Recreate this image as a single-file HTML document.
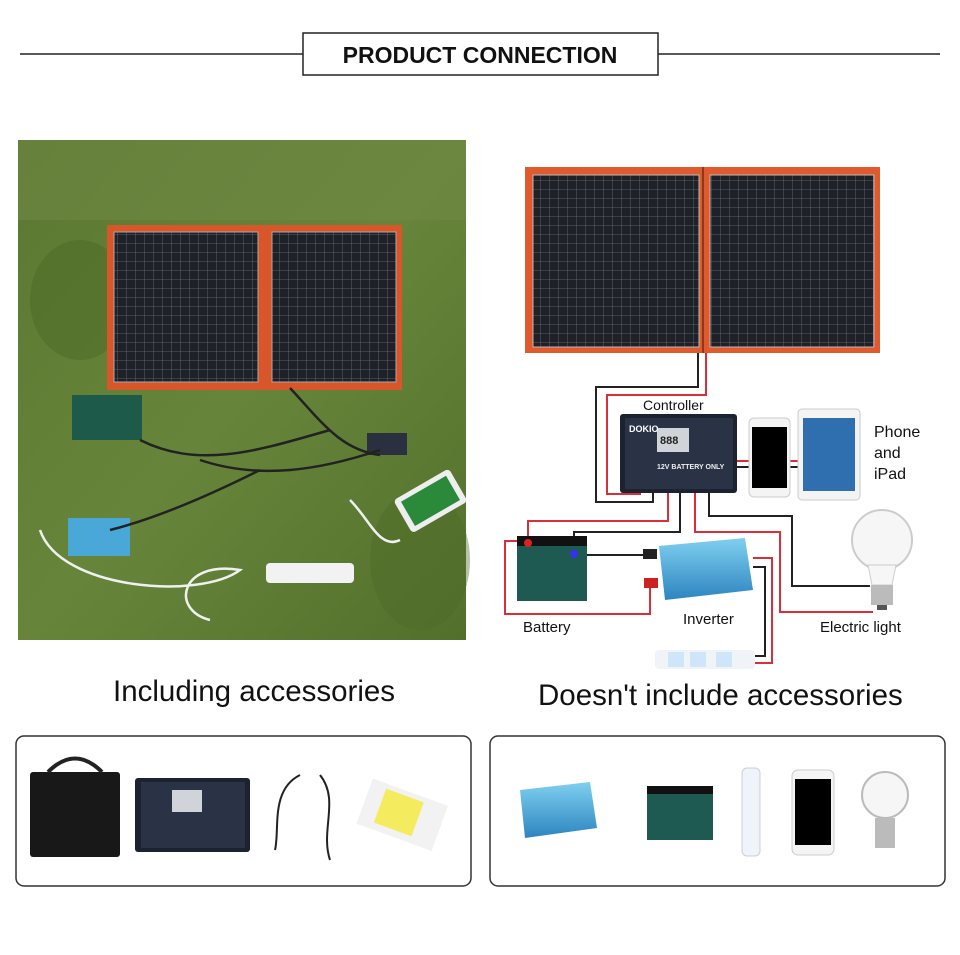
<!DOCTYPE html>
<html><head><meta charset="utf-8"><style>
html,body{margin:0;padding:0;background:#fff;}
body{width:960px;height:955px;position:relative;overflow:hidden;font-family:"Liberation Sans",Arial,sans-serif;}
.t{position:absolute;color:#111;white-space:nowrap;}
</style></head><body>
<svg width="960" height="955" viewBox="0 0 960 955" xmlns="http://www.w3.org/2000/svg" style="position:absolute;left:0;top:0">
<defs>
<pattern id="cells" width="9" height="9" patternUnits="userSpaceOnUse">
<rect width="9" height="9" fill="#1e2228"/><path d="M0 0H9M0 0V9" stroke="#6a6f78" stroke-width="0.8"/>
</pattern>
<linearGradient id="grass" x1="0" y1="0" x2="1" y2="1">
<stop offset="0" stop-color="#5a7830"/><stop offset="0.5" stop-color="#67853a"/><stop offset="1" stop-color="#52702b"/>
</linearGradient>
<linearGradient id="inv" x1="0" y1="0" x2="0" y2="1"><stop offset="0" stop-color="#7fd0ef"/><stop offset="1" stop-color="#2d85c0"/></linearGradient>
</defs>
<line x1="20" y1="54" x2="303" y2="54" stroke="#222" stroke-width="1.5"/>
<line x1="658" y1="54" x2="940" y2="54" stroke="#222" stroke-width="1.5"/>
<rect x="303" y="33" width="355" height="42" fill="#fff" stroke="#222" stroke-width="1.5"/>
<text x="480" y="63" text-anchor="middle" font-size="23" font-weight="bold" fill="#111">PRODUCT CONNECTION</text>
<rect x="18" y="140" width="448" height="500" fill="url(#grass)"/>
<rect x="18" y="140" width="448" height="80" fill="#6f8a45" opacity="0.5"/>
<ellipse cx="80" cy="300" rx="50" ry="60" fill="#4e6a28" opacity="0.5"/>
<ellipse cx="420" cy="560" rx="50" ry="70" fill="#4e6a28" opacity="0.4"/>
<rect x="107" y="225" width="295" height="165" fill="#d9552a"/>
<rect x="114" y="232" width="144" height="150" fill="url(#cells)" stroke="#aaa"/>
<rect x="272" y="232" width="124" height="150" fill="url(#cells)" stroke="#aaa"/>
<rect x="72" y="395" width="70" height="45" fill="#1e5a4a"/>
<rect x="367" y="433" width="40" height="22" fill="#2a3040"/>
<rect x="68" y="518" width="62" height="38" fill="#4aa8d8"/>
<rect x="266" y="563" width="88" height="20" rx="4" fill="#f2f2f2"/>
<rect x="398" y="482" width="64" height="38" rx="4" fill="#eee" transform="rotate(-30 430 500)"/>
<rect x="404" y="487" width="52" height="28" fill="#2a8a3a" transform="rotate(-30 430 500)"/>
<path d="M140 440 C200 470 260 450 330 430 M200 460 C260 480 320 470 380 450 M110 530 C150 520 200 500 260 470 M290 388 C320 420 340 450 380 455" stroke="#222" stroke-width="2.5" fill="none"/>
<path d="M40 530 C60 590 200 600 240 570 C180 560 170 610 210 620 M350 500 C370 520 380 550 400 540" stroke="#f0f0f0" stroke-width="2.5" fill="none"/>
<rect x="525" y="167" width="355" height="186" fill="#e05a2e"/>
<rect x="533" y="175" width="166" height="172" fill="url(#cells)" stroke="#bbb"/>
<rect x="710" y="175" width="164" height="172" fill="url(#cells)" stroke="#bbb"/>
<line x1="703" y1="167" x2="703" y2="353" stroke="#8a3a1a" stroke-width="2"/>
<g fill="none" stroke-width="2">
<polyline stroke="#222" points="698,353 698,387 596,387 596,502 653,502 653,490"/>
<polyline stroke="#d8303a" points="706,353 706,395 607,395 607,494 640,494 640,490"/>
<polyline stroke="#d8303a" points="668,490 668,521 528,521 528,540"/>
<polyline stroke="#222" points="680,490 680,532 574,532 574,555 650,555"/>
<polyline stroke="#d8303a" points="527,541 505,541 505,614 650,614 650,584"/>
<polyline stroke="#d8303a" points="695,490 695,532 780,532 780,612 873,612"/>
<polyline stroke="#222" points="709,490 709,516 792,516 792,586 870,586"/>
<polyline stroke="#d8303a" points="753,558 772,558 772,663 753,663"/>
<polyline stroke="#222" points="753,567 765,567 765,656 753,656"/>
<path stroke="#d8303a" d="M737 461H750M790 461H798"/>
<path stroke="#222" d="M737 467H750M790 467H798"/>
</g>
<rect x="620" y="414" width="117" height="79" rx="3" fill="#1c2230"/>
<rect x="625" y="418" width="108" height="71" fill="#2a3346"/>
<rect x="657" y="428" width="32" height="24" fill="#d0d4d8"/>
<text x="660" y="444" font-size="11" font-weight="bold" fill="#222">888</text>
<text x="629" y="432" font-size="9" font-weight="bold" fill="#fff">DOKIO</text>
<text x="657" y="469" font-size="7" font-weight="bold" fill="#eee">12V BATTERY ONLY</text>
<rect x="749" y="418" width="41" height="79" rx="5" fill="#f4f4f4" stroke="#ccc"/>
<rect x="752" y="427" width="35" height="61" fill="#000"/>
<rect x="798" y="409" width="62" height="91" rx="4" fill="#f4f4f4" stroke="#ccc"/>
<rect x="803" y="418" width="52" height="73" fill="#2f6fb0"/>
<circle cx="882" cy="540" r="30" fill="#f6f6f6" stroke="#ccc" stroke-width="2"/>
<path d="M868 565 L872 585 H892 L896 565Z" fill="#f6f6f6" stroke="#ccc"/>
<rect x="871" y="585" width="22" height="20" fill="#bbb"/>
<rect x="877" y="605" width="10" height="5" fill="#555"/>
<rect x="517" y="541" width="70" height="60" fill="#1f5a52"/>
<rect x="517" y="536" width="70" height="10" fill="#111"/>
<circle cx="528" cy="543" r="4" fill="#d22"/><circle cx="574" cy="554" r="4" fill="#33e"/>
<path d="M659 546 L745 538 L753 590 L665 600Z" fill="url(#inv)"/>
<rect x="643" y="549" width="14" height="10" fill="#222"/>
<rect x="644" y="578" width="14" height="10" fill="#c22"/>
<rect x="655" y="650" width="100" height="19" rx="4" fill="#f0f4f8"/>
<rect x="668" y="652" width="16" height="15" fill="#cfe6fa"/><rect x="690" y="652" width="16" height="15" fill="#cfe6fa"/><rect x="716" y="652" width="16" height="15" fill="#cfe6fa"/>
<rect x="16" y="736" width="455" height="150" rx="8" fill="#fff" stroke="#333" stroke-width="1.5"/>
<rect x="490" y="736" width="455" height="150" rx="8" fill="#fff" stroke="#333" stroke-width="1.5"/>
<rect x="30" y="772" width="90" height="85" rx="3" fill="#181818"/>
<path d="M48 772 Q75 745 102 772" stroke="#222" stroke-width="4" fill="none"/>
<rect x="135" y="778" width="115" height="74" rx="3" fill="#1c2230"/>
<rect x="141" y="782" width="104" height="66" fill="#2a3346"/>
<rect x="172" y="790" width="30" height="22" fill="#d0d4d8"/>
<path d="M300 775 C270 790 280 830 275 850 M320 775 C340 800 320 830 330 860" stroke="#222" stroke-width="2" fill="none"/>
<rect x="362" y="790" width="80" height="48" fill="#f2f2f2" transform="rotate(20 400 815)"/>
<rect x="378" y="795" width="40" height="36" fill="#f5e83a" opacity="0.8" transform="rotate(20 400 815)"/>
<path d="M520 790 L590 782 L597 828 L525 838Z" fill="url(#inv)"/>
<rect x="647" y="790" width="66" height="50" fill="#1f5a52"/><rect x="647" y="786" width="66" height="8" fill="#111"/>
<rect x="742" y="768" width="18" height="88" rx="5" fill="#eef4fa" stroke="#ccd"/>
<rect x="792" y="770" width="42" height="85" rx="6" fill="#f4f4f4" stroke="#ccc"/>
<rect x="795" y="779" width="36" height="66" fill="#000"/>
<circle cx="885" cy="795" r="23" fill="#f6f6f6" stroke="#bbb" stroke-width="2"/>
<rect x="875" y="818" width="20" height="30" fill="#bbb"/>
</svg>
<div class="t" style="left:643px;top:397px;font-size:14px">Controller</div>
<div class="t" style="left:874px;top:422px;font-size:16px;line-height:21px">Phone<br>and<br>iPad</div>
<div class="t" style="left:523px;top:619px;font-size:15px">Battery</div>
<div class="t" style="left:683px;top:611px;font-size:15px">Inverter</div>
<div class="t" style="left:820px;top:619px;font-size:15px">Electric light</div>
<div class="t" style="left:113px;top:675px;font-size:29.5px">Including accessories</div>
<div class="t" style="left:538px;top:679px;font-size:29.5px">Doesn't include accessories</div>
</body></html>
